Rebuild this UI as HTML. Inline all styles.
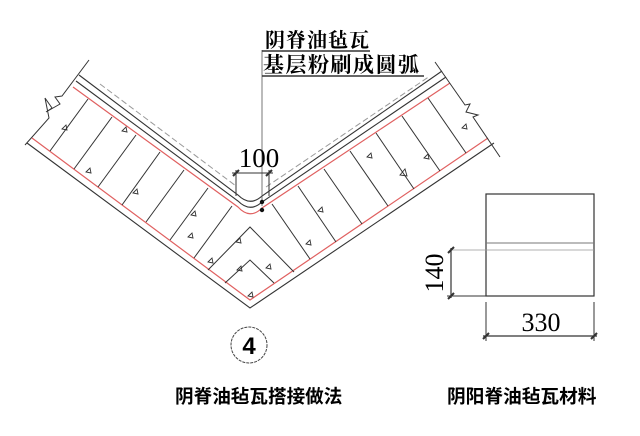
<!DOCTYPE html>
<html><head><meta charset="utf-8"><style>
html,body{margin:0;padding:0;background:#fff;}
svg{display:block;}
</style></head><body>
<svg width="640" height="436" viewBox="0 0 640 436" xmlns="http://www.w3.org/2000/svg">
<rect width="640" height="436" fill="#fff"/>
<path d="M73,87 L238,207 Q250,220 262,208 L450,83" fill="none" stroke="#e06060" stroke-width="1.2"/>
<path d="M76,81 L238,201 Q250,213 262,202 L446,77" fill="none" stroke="#333" stroke-width="1.1"/>
<path d="M79,75 L238,195 Q250,207 262,196 L442,71" fill="none" stroke="#333" stroke-width="1.1"/>
<path d="M100,84 L236,186 M266,187 L430,76" fill="none" stroke="#999" stroke-width="1" stroke-dasharray="6,3"/>
<path d="M32,138 L250,300 L488,138" fill="none" stroke="#e06060" stroke-width="1.2"/>
<path d="M27,143 L250,308 L494,143" fill="none" stroke="#333" stroke-width="1.1"/>
<path d="M89,60 L62,96 L55,97 L60,104 L46,112 L52,108 L45,98 L49,118 L25,145" fill="none" stroke="#333" stroke-width="1"/>
<path d="M435,62 L465,105 L470,104 L466,112 L478,115 L473,117 L500,157" fill="none" stroke="#333" stroke-width="1"/>
<g stroke="#333" stroke-width="1">
<line x1="50" y1="151" x2="88" y2="99"/>
<line x1="74" y1="169" x2="112" y2="117"/>
<line x1="98" y1="187" x2="136" y2="135"/>
<line x1="122" y1="205" x2="160" y2="152"/>
<line x1="146" y1="222" x2="184" y2="170"/>
<line x1="170" y1="240" x2="208" y2="188"/>
<line x1="194" y1="258" x2="232" y2="206"/>
<line x1="310" y1="259" x2="272" y2="204"/>
<line x1="336" y1="242" x2="298" y2="186"/>
<line x1="362" y1="224" x2="324" y2="169"/>
<line x1="388" y1="206" x2="350" y2="151"/>
<line x1="414" y1="189" x2="376" y2="133"/>
<line x1="440" y1="171" x2="402" y2="116"/>
<line x1="466" y1="153" x2="428" y2="98"/>
<path d="M208,270 L250,227 L294,272" fill="none"/>
<path d="M225,283 L250,260 L274,283" fill="none"/>
</g>
<g fill="none" stroke="#333" stroke-width="0.9">
<path d="M62,129 l4,-4 l1,5 z"/><path d="M122,131 l4,-4 l1,5 z"/><path d="M86,172 l4,-4 l1,5 z"/>
<path d="M133,193 l4,-4 l1,5 z"/><path d="M191,215 l4,-4 l1,5 z"/><path d="M188,237 l4,-4 l1,5 z"/>
<path d="M236,242 l4,-4 l1,5 z"/><path d="M208,262 l4,-4 l1,5 z"/><path d="M237,270 l4,-4 l1,5 z"/>
<path d="M266,268 l4,-4 l1,5 z"/><path d="M306,244 l4,-4 l1,5 z"/><path d="M318,211 l4,-4 l1,5 z"/>
<path d="M367,157 l4,-4 l1,5 z"/><path d="M400,175 l5,-6 l2,7 z"/><path d="M424,158 l4,-4 l1,5 z"/>
<path d="M462,128 l4,-4 l1,5 z"/><path d="M248,296 l4,-4 l1,5 z"/>
</g>
<line x1="262" y1="50" x2="262" y2="206" stroke="#555" stroke-width="0.8"/>
<circle cx="262" cy="202" r="2.2" fill="#111"/><circle cx="262" cy="210" r="2.2" fill="#111"/>
<line x1="262" y1="51" x2="370" y2="51" stroke="#333" stroke-width="1.5"/>
<line x1="262" y1="76" x2="424" y2="76" stroke="#333" stroke-width="1.5"/>
<text x="265" y="47" font-family="'Liberation Serif','Noto Serif CJK SC',serif" font-size="20" font-weight="bold" letter-spacing="1">阴脊油毡瓦</text>
<text x="263" y="72" font-family="'Liberation Serif','Noto Serif CJK SC',serif" font-size="21" font-weight="bold" letter-spacing="1.5">基层粉刷成圆弧</text>
<g stroke="#333" stroke-width="1">
<line x1="236" y1="170" x2="236" y2="196"/><line x1="269" y1="170" x2="269" y2="196"/>
<line x1="232" y1="173" x2="273" y2="173"/>
<line x1="233" y1="176" x2="239" y2="170" stroke-width="2"/><line x1="266" y1="176" x2="272" y2="170" stroke-width="2"/>
</g>
<text x="259" y="167" text-anchor="middle" font-family="'Liberation Serif',serif" font-size="27">100</text>
<circle cx="249" cy="345" r="18" fill="none" stroke="#444" stroke-width="1" stroke-dasharray="3,1"/>
<text x="249" y="354" text-anchor="middle" font-family="'Liberation Sans',sans-serif" font-size="24" font-weight="bold">4</text>
<text x="175" y="403" font-family="'Liberation Sans','Noto Sans CJK SC',sans-serif" font-size="18.6" font-weight="bold">阴脊油毡瓦搭接做法</text>
<text x="447" y="403" font-family="'Liberation Sans','Noto Sans CJK SC',sans-serif" font-size="18.7" font-weight="bold">阴阳脊油毡瓦材料</text>
<rect x="486" y="194" width="108" height="102" fill="none" stroke="#333" stroke-width="1.2"/>
<line x1="486" y1="243" x2="594" y2="243" stroke="#777" stroke-width="0.9"/>
<line x1="452" y1="250" x2="594" y2="250" stroke="#999" stroke-width="0.8"/>
<line x1="447" y1="296" x2="486" y2="296" stroke="#333" stroke-width="1"/>
<line x1="451" y1="248" x2="451" y2="298" stroke="#333" stroke-width="1.2"/>
<line x1="448" y1="253" x2="454" y2="247" stroke="#333" stroke-width="2"/><line x1="448" y1="299" x2="454" y2="293" stroke="#333" stroke-width="2"/>
<text transform="translate(443,273) rotate(-90)" text-anchor="middle" font-family="'Liberation Serif',serif" font-size="26">140</text>
<line x1="486" y1="302" x2="486" y2="341" stroke="#333" stroke-width="1"/>
<line x1="594" y1="302" x2="594" y2="341" stroke="#333" stroke-width="1"/>
<line x1="483" y1="336" x2="597" y2="336" stroke="#333" stroke-width="1.2"/>
<line x1="483" y1="339" x2="489" y2="333" stroke="#333" stroke-width="2"/><line x1="591" y1="339" x2="597" y2="333" stroke="#333" stroke-width="2"/>
<text x="541" y="331" text-anchor="middle" font-family="'Liberation Serif',serif" font-size="26">330</text>
</svg>
</body></html>
